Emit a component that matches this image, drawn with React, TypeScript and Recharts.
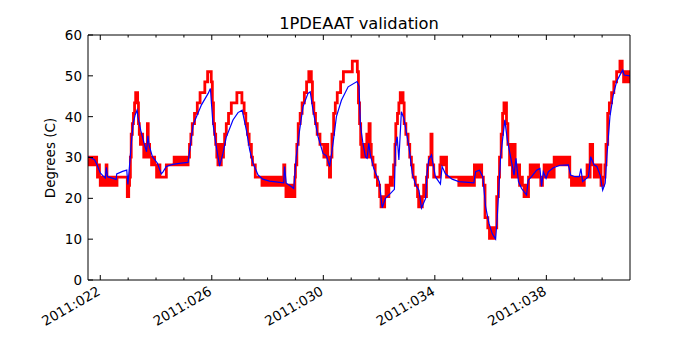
import { LineChart, Line, XAxis, YAxis } from "recharts";

// day-of-year ticks (every day minor, every 4th day labelled)
const dayTicks = [22, 23, 24, 25, 26, 27, 28, 29, 30, 31, 32, 33, 34, 35, 36, 37, 38, 39, 40];
const dayLabels: Record<number, string> = {
  22: "2011:022",
  26: "2011:026",
  30: "2011:030",
  34: "2011:034",
  38: "2011:038",
};
const tempTicks = [0, 10, 20, 30, 40, 50, 60];

// telemetry (quantized) [day, degC]
const tlm: [number, number][] = [
  [21.56, 30.1], [21.6, 28.2], [21.65, 30.1], [21.7, 28.2], [21.75, 30.1], [21.8, 28.2], [21.84, 30.1], [21.87, 28.2],
  [21.9, 25.2], [21.94, 28.2], [21.97, 25.2], [22.0, 23.2], [22.05, 25.2], [22.1, 23.2], [22.15, 25.2], [22.19, 23.2],
  [22.21, 28.2], [22.24, 25.2], [22.28, 23.2], [22.33, 25.2], [22.38, 23.2], [22.43, 25.2], [22.48, 23.2], [22.53, 25.2],
  [22.57, 23.2], [22.6, 25.2], [22.97, 20.4], [23.02, 23.2], [23.05, 25.2], [23.08, 30.1], [23.11, 35.7], [23.15, 38.3],
  [23.19, 40.8], [23.23, 43.4], [23.27, 45.9], [23.34, 43.4], [23.37, 38.3], [23.4, 35.7], [23.44, 33.2], [23.48, 35.7],
  [23.52, 33.2], [23.56, 30.1], [23.6, 33.2], [23.65, 30.1], [23.69, 38.3], [23.72, 33.2], [23.77, 30.1], [23.84, 28.2],
  [23.9, 30.1], [23.95, 28.2], [24.02, 25.2], [24.1, 28.2], [24.14, 25.2], [24.37, 28.2], [24.65, 30.1], [24.7, 28.2],
  [24.75, 30.1], [24.8, 28.2], [24.85, 30.1], [24.9, 28.2], [24.95, 30.1], [25.0, 28.2], [25.05, 30.1], [25.1, 28.2],
  [25.15, 30.1], [25.2, 33.2], [25.25, 35.7], [25.3, 38.3], [25.38, 40.8], [25.48, 43.4], [25.58, 45.9], [25.75, 48.5],
  [25.85, 51.0], [25.98, 48.5], [26.02, 43.4], [26.06, 38.3], [26.1, 35.7], [26.14, 33.2], [26.18, 30.1], [26.22, 28.2],
  [26.26, 33.2], [26.3, 28.2], [26.34, 33.2], [26.38, 30.1], [26.42, 33.2], [26.46, 35.7], [26.52, 38.3], [26.6, 40.8],
  [26.7, 43.4], [26.9, 45.9], [27.08, 43.4], [27.16, 40.8], [27.22, 38.3], [27.28, 35.7], [27.34, 33.2], [27.42, 30.1],
  [27.46, 28.2], [27.56, 25.2], [27.8, 23.2], [27.85, 25.2], [27.9, 23.2], [27.95, 25.2], [28.0, 23.2], [28.05, 25.2],
  [28.1, 23.2], [28.15, 25.2], [28.2, 23.2], [28.25, 25.2], [28.3, 23.2], [28.35, 25.2], [28.4, 23.2], [28.45, 25.2],
  [28.5, 23.2], [28.55, 25.2], [28.58, 28.2], [28.62, 23.2], [28.66, 20.4], [28.7, 23.2], [28.75, 20.4], [28.8, 23.2],
  [28.85, 20.4], [28.9, 23.2], [28.94, 20.4], [28.98, 25.2], [29.0, 28.2], [29.05, 33.2], [29.1, 38.3], [29.17, 40.8],
  [29.24, 43.4], [29.32, 45.9], [29.4, 48.5], [29.48, 51.0], [29.57, 48.5], [29.61, 43.4], [29.66, 40.8], [29.72, 38.3],
  [29.78, 35.7], [29.88, 33.2], [30.02, 30.1], [30.1, 33.2], [30.16, 28.2], [30.22, 25.2], [30.26, 30.1], [30.31, 35.7],
  [30.37, 40.8], [30.43, 43.4], [30.5, 45.9], [30.62, 48.5], [30.72, 51.0], [31.04, 53.6], [31.22, 51.0], [31.26, 43.4],
  [31.3, 38.3], [31.34, 33.2], [31.38, 30.1], [31.44, 33.2], [31.5, 30.1], [31.56, 35.7], [31.6, 30.1], [31.64, 38.3],
  [31.68, 33.2], [31.72, 30.1], [31.78, 28.2], [31.86, 25.2], [31.94, 23.2], [32.02, 20.4], [32.07, 17.9], [32.12, 20.4],
  [32.16, 17.9], [32.2, 20.4], [32.25, 23.2], [32.3, 20.4], [32.35, 23.2], [32.4, 25.2], [32.44, 23.2], [32.48, 25.2],
  [32.52, 28.2], [32.57, 33.2], [32.6, 38.3], [32.66, 40.8], [32.71, 43.4], [32.76, 45.9], [32.86, 43.4], [32.9, 38.3],
  [32.96, 35.7], [33.04, 33.2], [33.1, 30.1], [33.16, 28.2], [33.22, 25.2], [33.3, 23.2], [33.38, 20.4], [33.42, 17.9],
  [33.46, 20.4], [33.5, 17.9], [33.55, 20.4], [33.6, 23.2], [33.65, 20.4], [33.7, 25.2], [33.74, 28.2], [33.8, 30.1],
  [33.86, 35.7], [33.9, 28.2], [33.96, 25.2], [34.18, 28.2], [34.22, 30.1], [34.26, 28.2], [34.3, 30.1], [34.34, 28.2],
  [34.38, 30.1], [34.42, 25.2], [34.86, 23.2], [34.9, 25.2], [34.95, 23.2], [35.0, 25.2], [35.05, 23.2], [35.1, 25.2],
  [35.15, 23.2], [35.2, 25.2], [35.25, 23.2], [35.3, 25.2], [35.35, 23.2], [35.42, 28.2], [35.47, 25.2], [35.52, 28.2],
  [35.57, 25.2], [35.62, 28.2], [35.68, 25.2], [35.74, 23.2], [35.8, 15.3], [35.9, 12.8], [35.96, 10.2], [36.02, 12.8],
  [36.08, 10.2], [36.14, 12.8], [36.22, 20.4], [36.28, 25.2], [36.32, 30.1], [36.38, 35.7], [36.43, 40.8], [36.48, 43.4],
  [36.57, 38.3], [36.62, 33.2], [36.68, 28.2], [36.74, 33.2], [36.78, 25.2], [36.84, 33.2], [36.88, 28.2], [36.94, 25.2],
  [37.0, 28.2], [37.04, 23.2], [37.1, 25.2], [37.14, 23.2], [37.2, 20.4], [37.25, 23.2], [37.3, 20.4], [37.36, 25.2],
  [37.42, 28.2], [37.48, 25.2], [37.54, 28.2], [37.6, 25.2], [37.66, 28.2], [37.72, 25.2], [37.8, 23.2], [37.86, 25.2],
  [37.92, 28.2], [37.98, 25.2], [38.04, 28.2], [38.1, 25.2], [38.16, 28.2], [38.22, 25.2], [38.28, 30.1], [38.33, 28.2],
  [38.38, 30.1], [38.43, 28.2], [38.48, 30.1], [38.53, 28.2], [38.58, 30.1], [38.63, 28.2], [38.68, 30.1], [38.73, 28.2],
  [38.78, 30.1], [38.84, 25.2], [38.9, 23.2], [38.95, 25.2], [39.0, 23.2], [39.05, 25.2], [39.1, 23.2], [39.15, 25.2],
  [39.2, 23.2], [39.25, 25.2], [39.3, 23.2], [39.36, 25.2], [39.46, 28.2], [39.52, 25.2], [39.57, 33.2], [39.66, 28.2],
  [39.72, 25.2], [39.78, 28.2], [39.84, 25.2], [39.9, 28.2], [39.96, 23.2], [40.04, 25.2], [40.1, 28.2], [40.14, 33.2],
  [40.2, 40.8], [40.26, 43.4], [40.34, 45.9], [40.42, 48.5], [40.52, 51.0], [40.64, 53.6], [40.72, 51.0], [40.77, 48.5],
  [40.82, 51.0], [40.87, 48.5], [40.92, 51.0], [40.96, 48.5], [41.0, 51.0],
];

// thermal model prediction [day, degC]
const model: [number, number][] = [
  [21.56, 30.2], [21.7, 29.8], [21.8, 29.4], [21.9, 28.0], [22.0, 26.2], [22.1, 25.5], [22.18, 25.0], [22.22, 27.6],
  [22.26, 25.3], [22.4, 25.0], [22.57, 24.6], [22.59, 26.0], [22.8, 26.6], [22.95, 26.9], [22.99, 23.4], [23.05, 28.0],
  [23.12, 34.0], [23.18, 38.4], [23.25, 40.4], [23.32, 41.6], [23.35, 40.0], [23.45, 36.7], [23.57, 33.5], [23.66, 31.4],
  [23.71, 35.3], [23.75, 33.0], [23.87, 30.2], [24.05, 28.6], [24.19, 26.0], [24.25, 26.5], [24.37, 27.8], [24.6, 28.3],
  [24.9, 28.6], [25.15, 28.8], [25.33, 38.0], [25.45, 40.0], [25.63, 42.9], [25.87, 45.7], [25.95, 46.9], [26.04, 38.4],
  [26.16, 32.7], [26.28, 27.9], [26.4, 31.0], [26.52, 35.0], [26.76, 39.2], [26.94, 41.0], [27.09, 41.6], [27.24, 36.7],
  [27.36, 31.8], [27.48, 28.6], [27.66, 25.7], [27.83, 24.7], [28.07, 24.2], [28.58, 23.8], [28.61, 27.8], [28.67, 23.7],
  [28.85, 22.9], [28.94, 22.4], [29.03, 30.2], [29.15, 36.7], [29.27, 42.4], [29.45, 45.7], [29.53, 46.1], [29.63, 41.6],
  [29.81, 35.1], [29.99, 31.0], [30.11, 30.4], [30.23, 27.8], [30.35, 33.5], [30.47, 40.0], [30.65, 44.0], [30.89, 47.3],
  [31.21, 48.6], [31.28, 47.5], [31.33, 38.0], [31.42, 33.5], [31.51, 30.2], [31.57, 29.8], [31.63, 33.5], [31.69, 30.6],
  [31.81, 27.3], [31.93, 25.3], [32.01, 24.1], [32.11, 17.7], [32.23, 20.0], [32.41, 21.2], [32.55, 22.2], [32.59, 33.0],
  [32.65, 35.1], [32.71, 29.4], [32.8, 41.2], [32.89, 39.6], [33.07, 32.7], [33.19, 26.1], [33.31, 23.3], [33.43, 22.0],
  [33.52, 17.6], [33.67, 20.0], [33.72, 26.1], [33.78, 29.4], [33.88, 30.6], [34.02, 25.3], [34.2, 23.5], [34.26, 27.8],
  [34.38, 26.0], [34.62, 24.7], [34.86, 24.1], [35.4, 23.8], [35.46, 26.5], [35.6, 26.9], [35.72, 25.3], [35.82, 18.0],
  [35.94, 13.9], [36.06, 11.3], [36.18, 10.0], [36.24, 15.5], [36.36, 30.2], [36.51, 39.2], [36.6, 34.3], [36.76, 28.6],
  [36.84, 25.7], [36.91, 29.8], [37.0, 24.1], [37.11, 22.4], [37.29, 20.8], [37.35, 24.5], [37.47, 25.3], [37.65, 26.9],
  [37.77, 27.3], [37.83, 22.9], [37.89, 26.5], [37.99, 24.9], [38.07, 26.5], [38.25, 27.5], [38.49, 28.1], [38.79, 28.2],
  [38.87, 25.7], [39.03, 25.3], [39.18, 25.3], [39.24, 27.3], [39.3, 24.1], [39.51, 25.3], [39.59, 30.2], [39.71, 28.2],
  [39.81, 27.8], [39.93, 25.7], [40.02, 22.0], [40.11, 23.7], [40.17, 30.2], [40.28, 40.0], [40.4, 45.3], [40.52, 48.6],
  [40.67, 50.6], [40.74, 51.4], [40.79, 50.2], [41.0, 50.0],
];

const tlmRows = tlm.map(([t, v]) => ({ t, v }));
const modelRows = model.map(([t, v]) => ({ t, v }));

const FONT = "DejaVu Sans";
const FS = 13.5;

function BottomTick(props: any) {
  const { x, y, payload } = props;
  const label = dayLabels[payload.value];
  const lx = x + 1;
  const ly = y + 14;
  return (
    <g>
      <line x1={x} x2={x} y1={y} y2={y - (label ? 5 : 2.5)} stroke="#000" />
      {label && (
        <text
          x={lx}
          y={ly}
          textAnchor="end"
          fontSize={FS}
          fontFamily={FONT}
          fill="#000"
          transform={`rotate(-30 ${lx} ${ly})`}
        >
          {label}
        </text>
      )}
    </g>
  );
}

function TopTick(props: any) {
  const { x, y, payload } = props;
  const major = !!dayLabels[payload.value];
  return <line x1={x} x2={x} y1={y} y2={y + (major ? 5 : 2.5)} stroke="#000" />;
}

function LeftTick(props: any) {
  const { x, y, payload } = props;
  return (
    <g>
      <line x1={x} x2={x + 5} y1={y} y2={y} stroke="#000" />
      <text x={x - 6} y={y} dy="0.36em" textAnchor="end" fontSize={FS} fontFamily={FONT} fill="#000">
        {payload.value}
      </text>
    </g>
  );
}

function RightTick(props: any) {
  const { x, y } = props;
  return <line x1={x} x2={x - 5} y1={y} y2={y} stroke="#000" />;
}

export default function App() {
  return (
    <div style={{ position: "absolute", left: 0, top: 0, width: 700, height: 350, background: "#fff" }}>
      <div
        style={{
          position: "absolute",
          left: 88,
          width: 542,
          top: 15,
          textAlign: "center",
          fontFamily: FONT,
          fontSize: 16.3,
          lineHeight: "18px",
          color: "#000",
        }}
      >
        1PDEAAT validation
      </div>
      <div
        style={{
          position: "absolute",
          left: 50,
          top: 157.5,
          transform: "translate(-50%, -50%) rotate(-90deg)",
          fontFamily: FONT,
          fontSize: FS,
          whiteSpace: "nowrap",
          color: "#000",
        }}
      >
        Degrees (C)
      </div>
      <LineChart width={700} height={350} margin={{ top: 30, right: 60, bottom: 10, left: 48 }}>
        <XAxis
          type="number"
          dataKey="t"
          domain={[21.56, 41.0]}
          allowDataOverflow
          ticks={dayTicks}
          interval={0}
          tickSize={0}
          tickMargin={0}
          height={60}
          axisLine={{ stroke: "#000", strokeWidth: 1 }}
          tickLine={false}
          tick={<BottomTick />}
        />
        <XAxis
          xAxisId="top"
          orientation="top"
          type="number"
          dataKey="t"
          domain={[21.56, 41.0]}
          allowDataOverflow
          ticks={dayTicks}
          interval={0}
          tickSize={0}
          tickMargin={0}
          height={5}
          axisLine={{ stroke: "#000", strokeWidth: 1 }}
          tickLine={false}
          tick={<TopTick />}
        />
        <YAxis
          type="number"
          domain={[0, 60]}
          ticks={tempTicks}
          interval={0}
          allowDataOverflow
          tickSize={0}
          tickMargin={0}
          width={40}
          axisLine={{ stroke: "#000", strokeWidth: 1 }}
          tickLine={false}
          tick={<LeftTick />}
        />
        <YAxis
          yAxisId="right"
          orientation="right"
          type="number"
          domain={[0, 60]}
          ticks={tempTicks}
          interval={0}
          tickSize={0}
          tickMargin={0}
          width={10}
          axisLine={{ stroke: "#000", strokeWidth: 1 }}
          tickLine={false}
          tick={<RightTick />}
        />
        <Line
          data={tlmRows}
          dataKey="v"
          type="stepAfter"
          stroke="#ff0000"
          strokeWidth={2.8}
          dot={false}
          activeDot={false}
          isAnimationActive={false}
        />
        <Line
          data={modelRows}
          dataKey="v"
          type="linear"
          stroke="#0000ff"
          strokeWidth={1.2}
          dot={false}
          activeDot={false}
          isAnimationActive={false}
        />
      </LineChart>
    </div>
  );
}
